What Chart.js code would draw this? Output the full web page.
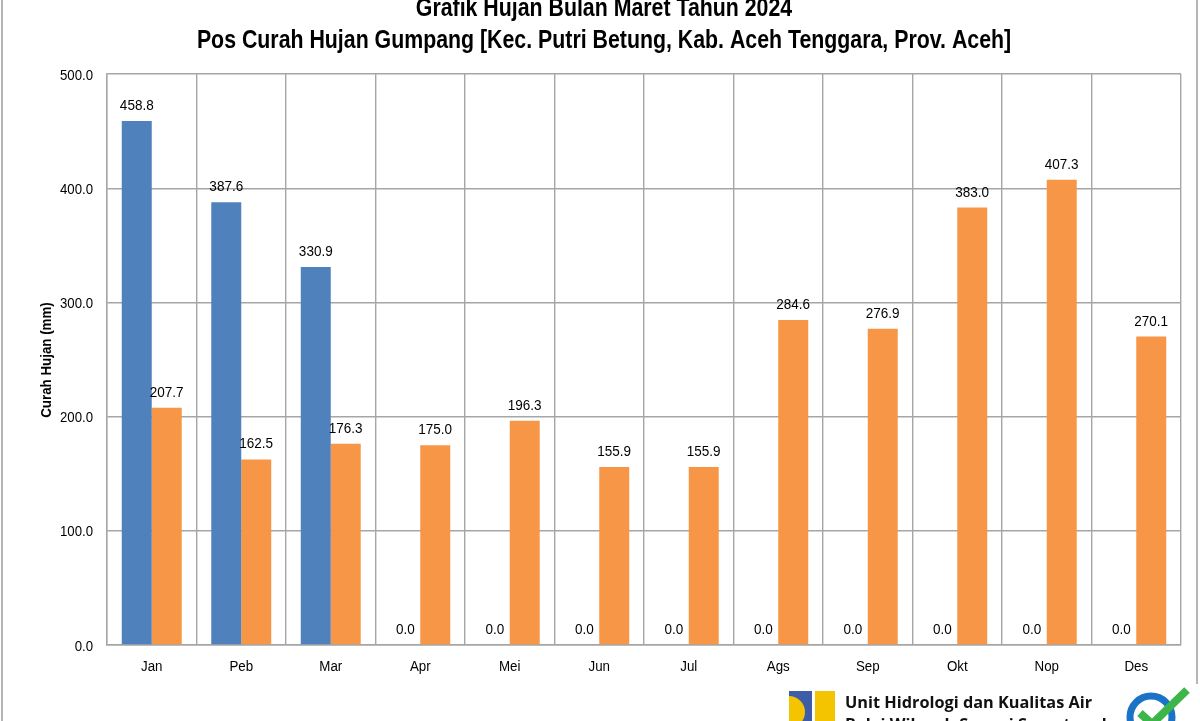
<!DOCTYPE html>
<html>
<head>
<meta charset="utf-8">
<script src="https://cdn.jsdelivr.net/npm/chart.js@4.4.1/dist/chart.umd.min.js"></script>
<style>
  html, body { margin: 0; padding: 0; background: #fff; }
  #wrap { position: relative; width: 1200px; height: 721px; overflow: hidden; }
  #frame { position: absolute; left: 1px; top: -4px; width: 1197px; height: 740px; border-left: 2px solid #b5b5b5; border-right: 2px solid #b5b5b5; border-top: 2px solid #b5b5b5; box-sizing: border-box; }
  canvas { position: absolute; left: 0; top: 0; }
  .unit { position: absolute; left: 845px; top: 691px; font-family: "Open Sans", sans-serif; font-weight: 700; font-size: 16.3px; color: #111; white-space: nowrap; line-height: 22px; }
</style>
</head>
<body>
<div id="wrap">
  <div id="frame"></div>
  <canvas id="myChart" width="1200" height="721"></canvas>
  <svg style="position:absolute;left:789px;top:691px" width="48" height="32">
    <rect x="0" y="0" width="23" height="32" fill="#3f5ca8"></rect>
    <path d="M0 5 A16 16 0 0 1 0 37 Z" fill="#f4c400"></path>
    <rect x="26" y="0" width="20" height="32" fill="#f4c400"></rect>
  </svg>
  <div class="unit">Unit Hidrologi dan Kualitas Air<br>Balai Wilayah Sungai Sumatera I</div>
  <svg style="position:absolute;left:1124px;top:684px" width="76" height="40">
    <rect x="0" y="0" width="76" height="40" fill="#fff"></rect>
    <circle cx="27" cy="33" r="21" fill="none" stroke="#1b73c8" stroke-width="7"></circle>
    <path d="M16 29 L28 40 L63 6" fill="none" stroke="#3db649" stroke-width="8" stroke-linejoin="round"></path>
  </svg>
</div>
<script>
const months = ["Jan", "Peb", "Mar", "Apr", "Mei", "Jun", "Jul", "Ags", "Sep", "Okt", "Nop", "Des"];
const hujan2024 = [458.8, 387.6, 330.9, 0, 0, 0, 0, 0, 0, 0, 0, 0];
const hujanRerata = [207.7, 162.5, 176.3, 175.0, 196.3, 155.9, 155.9, 284.6, 276.9, 383.0, 407.3, 270.1];
const titleLines = ["Grafik Hujan Bulan Maret Tahun 2024", "Pos Curah Hujan Gumpang [Kec. Putri Betung, Kab. Aceh Tenggara, Prov. Aceh]"];
const yTitle = "Curah Hujan (mm)";

const gridColor = "#a6a6a6";
const fontFamily = "'Liberation Sans', Arial, sans-serif";

// text in the picture is a squeezed Arial, so draw it with a horizontal scale
function drawText(ctx, text, x, y, size, bold, align, sx) {
  ctx.save();
  ctx.translate(x, y);
  ctx.scale(sx, 1);
  ctx.font = (bold ? "bold " : "") + size + "px " + fontFamily;
  ctx.textAlign = align;
  ctx.textBaseline = "alphabetic";
  ctx.fillStyle = "#000";
  ctx.fillText(text, 0, 0);
  ctx.restore();
}

const decorPlugin = {
  id: "decor",
  afterDatasetsDraw(chart) {
    const ctx = chart.ctx;
    const { x, y } = chart.scales;

    drawText(ctx, titleLines[0], 604, 16, 26, true, "center", 0.82);
    drawText(ctx, titleLines[1], 604, 48, 26, true, "center", 0.82);

    // y ticks
    y.ticks.forEach((t) => {
      drawText(ctx, t.value.toFixed(1), 93, y.getPixelForValue(t.value) + 5.5, 15, false, "right", 0.88);
    });
    // x ticks
    months.forEach((m, i) => {
      drawText(ctx, m, x.getPixelForTick(i), 671, 15.5, false, "center", 0.86);
    });

    // value labels
    chart.data.datasets.forEach((ds, i) => {
      chart.getDatasetMeta(i).data.forEach((bar, j) => {
        drawText(ctx, ds.data[j].toFixed(1), bar.x, bar.y - 11, 15, false, "center", 0.9);
      });
    });

    ctx.save();
    ctx.translate(51, 360);
    ctx.rotate(-Math.PI / 2);
    drawText(ctx, yTitle, 0, 0, 15.5, true, "center", 0.86);
    ctx.restore();
  }
};

const ctx = document.getElementById("myChart").getContext("2d");
const myChart = new Chart(ctx, {
  type: "bar",
  data: {
    labels: months,
    datasets: [
      { label: "2024", data: hujan2024, backgroundColor: "#4f81bd", borderWidth: 0 },
      { label: "Rerata", data: hujanRerata, backgroundColor: "#f79646", borderWidth: 0 },
    ],
  },
  options: {
    responsive: false,
    animation: false,
    layout: { padding: { left: 0, right: 19, top: 74, bottom: 0 } },
    datasets: { bar: { categoryPercentage: 0.67, barPercentage: 1 } },
    plugins: { legend: { display: false }, title: { display: false }, tooltip: { enabled: false } },
    scales: {
      x: {
        grid: { color: gridColor, lineWidth: 1.4, drawTicks: false, offset: true },
        border: { color: gridColor, width: 1.4 },
        ticks: { display: false },
        afterFit(scale) { scale.height = 76; },
      },
      y: {
        min: 0,
        max: 500,
        grid: { color: gridColor, lineWidth: 1.4, drawTicks: false },
        border: { color: gridColor, width: 1.4 },
        ticks: { stepSize: 100, display: false },
        afterFit(scale) { scale.width = 107; },
      },
    },
  },
  plugins: [decorPlugin],
});
</script>
</body>
</html>
